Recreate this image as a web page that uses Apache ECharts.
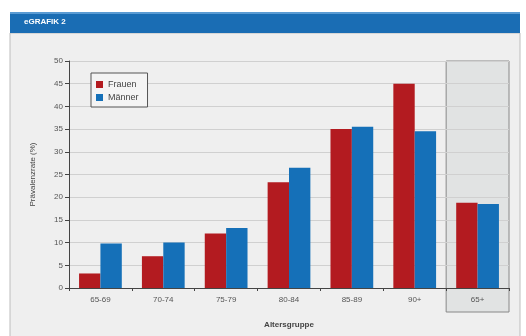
<!DOCTYPE html>
<html><head><meta charset="utf-8">
<script src="https://cdn.jsdelivr.net/npm/echarts@6/dist/echarts.min.js"></script>
<style>html,body{margin:0;padding:0;background:#fff}#c{width:526px;height:336px}</style>
</head><body><div id="c"></div>
<script>
var categories = ['65-69', '70-74', '75-79', '80-84', '85-89', '90+', '65+'];
var frauen = [3.2, 7.0, 12.0, 23.3, 35.0, 45.0, 18.8];
var maenner = [9.8, 10.0, 13.2, 26.5, 35.5, 34.5, 18.5];
var yTicks = [0, 5, 10, 15, 20, 25, 30, 35, 40, 45, 50];

var chart = echarts.init(document.getElementById('c'));
var font = 'Liberation Sans, Arial, sans-serif';
var option = {
  animation: false,
  backgroundColor: '#ffffff',
  textStyle: {fontFamily: font},
  grid: {left: 69, right: 17, top: 61, bottom: 48},
  legend: {
    orient: 'vertical', left: 91, top: 73,
    icon: 'rect',
    itemWidth: 7, itemHeight: 7, itemGap: 4,
    padding: [7, 9, 5, 5],
    backgroundColor: '#f4f4f4', borderColor: '#555', borderWidth: 1,
    textStyle: {fontSize: 9, color: '#444', fontFamily: font},
    data: ['Frauen', 'Männer']
  },
  xAxis: {
    type: 'category', data: categories,
    name: 'Altersgruppe', nameLocation: 'middle', nameGap: 33,
    nameTextStyle: {fontSize: 8, fontWeight: 'bold', color: '#444'},
    axisLine: {lineStyle: {color: '#444'}},
    axisTick: {show: true, length: 3, lineStyle: {color: '#444'}},
    axisLabel: {fontSize: 8, color: '#555', margin: 8}
  },
  yAxis: {
    type: 'value', min: yTicks[0], max: yTicks[yTicks.length - 1], interval: 5,
    name: 'Prävalenzrate (%)', nameLocation: 'middle', nameGap: 32,
    nameTextStyle: {fontSize: 8, color: '#444'},
    axisLine: {show: true, lineStyle: {color: '#444'}},
    axisTick: {show: true, length: 4, lineStyle: {color: '#444'}},
    axisLabel: {fontSize: 8, color: '#555', margin: 6},
    splitLine: {lineStyle: {color: '#d0d0d0'}}
  },
  series: [
    {name: 'Frauen', type: 'bar', data: frauen, barGap: '0%', barCategoryGap: '32%',
     itemStyle: {color: '#b31b20'}, z: 3},
    {name: 'Männer', type: 'bar', data: maenner,
     itemStyle: {color: '#1570b8'}, z: 3}
  ]
};
chart.setOption(option);

// decorations: header, panel frame, highlighted 65+ box
var last = categories[categories.length - 1];
var cx = chart.convertToPixel({xAxisIndex: 0}, last);
var cx2 = chart.convertToPixel({xAxisIndex: 0}, categories[categories.length - 2]);
var bw = cx - cx2;
var yTop = chart.convertToPixel({yAxisIndex: 0}, yTicks[yTicks.length - 1]);
var yBot = chart.convertToPixel({yAxisIndex: 0}, yTicks[0]);
chart.setOption({
  graphic: [
    {type: 'rect', shape: {x: 10, y: 33, width: 510, height: 310}, z: -10, silent: true,
     style: {fill: '#efefef', stroke: '#bdbdbd', lineWidth: 1}},
    {type: 'rect', shape: {x: 10, y: 12, width: 510, height: 21}, z: -9, silent: true,
     style: {fill: '#1a6db4'}},
    {type: 'rect', shape: {x: 10, y: 12, width: 510, height: 2}, z: -9, silent: true,
     style: {fill: '#5a9bd3'}},
    {type: 'text', left: 24, top: 18, z: 5, silent: true,
     style: {text: 'eGRAFIK 2', fill: '#ffffff', fontSize: 8, fontWeight: 'bold', fontFamily: font}},
    {type: 'rect', shape: {x: cx - bw / 2, y: yTop, width: bw, height: (yBot - yTop) + 24}, z: -1, silent: true,
     style: {fill: '#e1e3e3', stroke: '#888', lineWidth: 1}}
  ]
});
</script></body></html>
